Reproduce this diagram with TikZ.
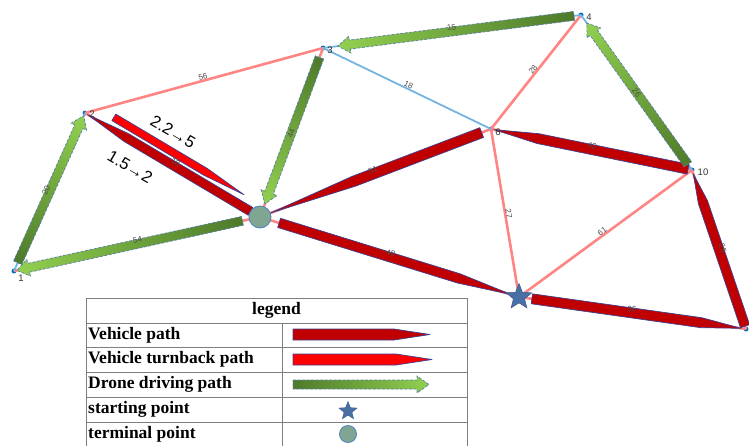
\documentclass[tikz,border=0pt]{standalone}
\usepackage{fontspec}
\setmainfont{Liberation Serif}
\setsansfont{Liberation Sans}
\usetikzlibrary{calc,shapes.geometric}

\definecolor{pinkline}{HTML}{FF8585}
\definecolor{blueline}{HTML}{74B4E0}
\definecolor{vdark}{HTML}{C00000}
\definecolor{vred}{HTML}{FF0000}
\definecolor{barline}{HTML}{3F3F8F}
\definecolor{dgreen}{HTML}{4E7A2A}
\definecolor{lgreen}{HTML}{92D050}
\definecolor{dashline}{HTML}{5A7FA8}
\definecolor{dotblue}{HTML}{0070C0}
\definecolor{starfill}{HTML}{4A6FA5}
\definecolor{starline}{HTML}{3A5A8A}
\definecolor{circfill}{HTML}{80A592}
\definecolor{circline}{HTML}{4F81BD}
\definecolor{gridgray}{HTML}{7F7F7F}

% local frame of the edge #1 -> #2: start point, angle and length
\newcommand\edgeframe[2]{%
  \path let \p1=(#1.center), \p2=(#2.center),
    \n1={atan2(\y2-\y1,\x2-\x1)}, \n2={veclen(\x2-\x1,\y2-\y1)} in
    \pgfextra{\xdef\ea{\n1}\xdef\el{\n2}\xdef\ex{\x1}\xdef\ey{\y1}};%
}
% tapered vehicle bar: from, to, start gap, end gap, taper, half width, fill, side offset
\newcommand\vbar[8]{%
  \edgeframe{#1}{#2}%
  \begin{scope}[transform canvas={shift={(\ex,\ey)},rotate=\ea},x=1pt,y=1pt]
    \filldraw[fill=#7,draw=barline,line width=0.7pt,line join=round]
      (#3,#8+#6) -- ({\el-#4-#5},#8+#6) -- ({\el-#4},#8) --
      ({\el-#4-#5},#8-#6) -- (#3,#8-#6) -- cycle;
  \end{scope}%
}
% shaded drone arrow: from, to, start gap, end gap
\newcommand\darrow[4]{%
  \edgeframe{#1}{#2}%
  \begin{scope}[transform canvas={shift={(\ex,\ey)},rotate=\ea},x=1pt,y=1pt]
    \shadedraw[left color=dgreen,right color=lgreen,draw=dashline,
      line width=0.7pt,dash pattern=on 3pt off 1.5pt]
      (#3,4.5) -- ({\el-#4-12},4.5) -- ({\el-#4-12},8.5) -- ({\el-#4},0) --
      ({\el-#4-12},-8.5) -- ({\el-#4-12},-4.5) -- (#3,-4.5) -- cycle;
  \end{scope}%
}

\tikzset{
  dot/.style={circle,fill=dotblue,inner sep=0pt,minimum size=5},
  base/.style={pinkline,line width=2.6pt},
  dbase/.style={blueline,line width=1.8pt},
  elab/.style={sloped,midway,above=0.3pt,inner sep=0.5pt,
    font=\sffamily\fontsize{8}{9}\selectfont,text=black!70},
  elabon/.style={sloped,midway,inner sep=0pt,
    font=\sffamily\fontsize{8}{9}\selectfont,text=black!70},
  nlab/.style={font=\sffamily\fontsize{9.5}{10}\selectfont,text=black!80,inner sep=0pt},
  biglab/.style={font=\sffamily\fontsize{16.5}{18}\selectfont,inner sep=0pt},
  legtxt/.style={font=\bfseries\fontsize{17.5}{19}\selectfont,inner sep=0pt,anchor=west},
  grid/.style={gridgray,line width=0.8pt},
}

\begin{document}
\begin{tikzpicture}[x=1pt,y=-1pt]
\useasboundingbox (0,0) rectangle (749,445);

% vertices
\node[dot] (n1) at (14,271) {};
\node[dot] (n2) at (85,113) {};
\node[dot] (n3) at (323,48) {};
\node[dot] (n4) at (581,15) {};
\node[dot] (n6) at (491,129) {};
\node[dot] (n10) at (692,170) {};
\node[dot] (n8) at (746,329) {};
\coordinate (n5) at (260,217);
\coordinate (st) at (519,297);

% road network
\draw[base] (n1.center) -- (n5);
\draw[base] (n2.center) -- (n3.center);
\draw[base] (n2.center) -- (n5);
\draw[base] (n3.center) -- (n5);
\draw[base] (n4.center) -- (n6.center);
\draw[base] (n5) -- (n6.center);
\draw[base] (n5) -- (st);
\draw[base] (n6.center) -- (n10.center);
\draw[base] (n6.center) -- (st);
\draw[base] (n10.center) -- (st);
\draw[base] (n10.center) -- (n8.center);
\draw[base] (st) -- (n8.center);
\draw[dbase] (n1.center) -- (n2.center);
\draw[dbase] (n3.center) -- (n4.center);
\draw[dbase] (n4.center) -- (n10.center);
\draw[dbase] (n3.center) -- (n6.center);

% vehicle route
\vbar{st}{n8}{13}{5}{40}{5}{vdark}{0}
\vbar{n8}{n10}{3}{4}{30}{4.8}{vdark}{0}
\vbar{n10}{n6}{4}{3}{45}{5}{vdark}{0}
\vbar{n6}{n5}{10}{11}{90}{5.2}{vdark}{0}
\vbar{n5}{n2}{11}{3}{45}{4.5}{vdark}{0}
\vbar{n5}{st}{20}{8}{55}{4.8}{vdark}{0}
\vbar{n2}{n5}{27}{25}{45}{3.8}{vred}{11}

% drone flights
\darrow{n1}{n2}{9}{3}
\darrow{n5}{n1}{18}{3}
\darrow{n4}{n3}{7}{15}
\darrow{n3}{n5}{10}{14}
\darrow{n10}{n4}{7}{10}

% edge weights
\path (n1) -- (n2) node[elab] {20};
\path (n1) -- (n5) node[elab] {54};
\path (n2) -- (n3) node[elab] {56};
\path (n2) -- (n5) node[elab] {18};
\path (n3) -- (n4) node[elab] {15};
\path (n3) -- (n5) node[elabon] {44};
\path (n3) -- (n6) node[elab] {18};
\path (n4) -- (n6) node[elab] {28};
\path (n4) -- (n10) node[elabon] {26};
\path (n5) -- (n6) node[elab] {51};
\path (n5) -- (st) node[elab] {48};
\path (n6) -- (n10) node[elab] {42};
\path (n6) -- (st) node[elab] {27};
\path (n10) -- (st) node[elab] {61};
\path (n10) -- (n8) node[elab] {25};
\path (st) -- (n8) node[elab] {36};

% vertex numbers
\node[nlab] (l1) at (21,278) {1};
\node[nlab] (l2) at (92,114) {2};
\node[nlab] (l3) at (330,50) {3};
\node[nlab] (l4) at (589,17) {4};
\node[nlab] (l6) at (498,132) {6};
\node[nlab] (l10) at (703,172) {10};

% depot markers
\node[circle,minimum size=22,inner sep=0pt,fill=circfill,draw=circline,line width=0.8pt] (term) at (n5) {};
\node[star,star points=5,star point ratio=2.3,minimum size=27,inner sep=0pt,fill=starfill,draw=starline,line width=0.5pt] (start) at (st) {};

% route step annotations
\node[biglab,rotate=-30] (t22) at (173,132) {2.2→5};
\node[biglab,rotate=-30] (t15) at (130,167) {1.5→2};

% legend table
\draw[grid] (86,298) -- (467,298);
\draw[grid] (86,323) -- (467,323);
\draw[grid] (86,347) -- (467,347);
\draw[grid] (86,372) -- (467,372);
\draw[grid] (86,397) -- (467,397);
\draw[grid] (86,422) -- (467,422);
\draw[grid] (86,298) -- (86,447);
\draw[grid] (467,298) -- (467,447);
\draw[grid] (282,323) -- (282,447);

\node[font=\bfseries\fontsize{17.5}{19}\selectfont,inner sep=0pt] (lgh) at (276.5,310.5) {legend};
\node[legtxt] (lg1) at (88,335) {Vehicle path};
\node[legtxt] (lg2) at (88,359.5) {Vehicle turnback path};
\node[legtxt] (lg3) at (88,384.5) {Drone driving path};
\node[legtxt] (lg4) at (88,409.5) {starting point};
\node[legtxt] (lg5) at (88,434) {terminal point};

\coordinate (la1) at (293,334.5); \coordinate (lb1) at (430,334.5);
\coordinate (la2) at (293,359.5); \coordinate (lb2) at (432,359.5);
\coordinate (la3) at (293,384.5); \coordinate (lb3) at (429,384.5);
\vbar{la1}{lb1}{0}{0}{36}{5.5}{vdark}{0}
\vbar{la2}{lb2}{0}{0}{36}{5.5}{vred}{0}
\darrow{la3}{lb3}{0}{0}
\node[star,star points=5,star point ratio=2.3,minimum size=19,inner sep=0pt,fill=starfill,draw=starline,line width=0.4pt] (lgstar) at (348,411) {};
\node[circle,minimum size=17,inner sep=0pt,fill=circfill,draw=circline,line width=0.8pt] (lgcirc) at (348,434) {};
\end{tikzpicture}
\end{document}
